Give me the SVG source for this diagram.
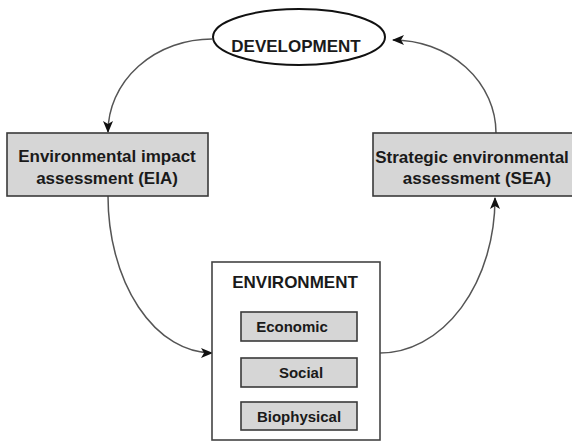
<svg xmlns="http://www.w3.org/2000/svg" width="572" height="442" viewBox="0 0 572 442">
<style>
.box{fill:#d6d6d6;stroke:#3a3a3a;stroke-width:1.6}
.wbox{fill:#fff;stroke:#444;stroke-width:1.6}
.t{font-family:"Liberation Sans",Arial,sans-serif;font-weight:bold;fill:#1a1a1a;text-anchor:middle}
.big{font-size:17px}
.sm{font-size:15px}
.conn{fill:none;stroke:#555;stroke-width:1.5}
</style>
<defs>
<marker id="arr" viewBox="0 0 12 10" refX="11" refY="5" markerWidth="12" markerHeight="10" markerUnits="userSpaceOnUse" orient="auto">
<path d="M0,0 L12,5 L0,10 L3,5 Z" fill="#111"/>
</marker>
</defs>
<rect width="572" height="442" fill="#fff"/>
<g id="connectors">
<path class="conn" d="M212,39 A104,93 0 0 0 108,132" marker-end="url(#arr)"/>
<path class="conn" d="M108,196 A104,157 0 0 0 212,353" marker-end="url(#arr)"/>
<path class="conn" d="M380,353 A115,155 0 0 0 495,198" marker-end="url(#arr)"/>
<path class="conn" d="M496,133 A103,93 0 0 0 393,40" marker-end="url(#arr)"/>
</g>
<g id="development">
<ellipse cx="299" cy="37" rx="86" ry="28" fill="#fff" stroke="#111" stroke-width="2"/>
<text class="t big" x="296" y="52">DEVELOPMENT</text>
</g>
<g id="eia">
<rect class="box" x="7" y="133" width="201" height="63"/>
<text class="t big" x="107" y="162">Environmental impact</text>
<text class="t big" x="107" y="184">assessment (EIA)</text>
</g>
<g id="sea">
<rect class="box" x="373" y="133" width="202" height="63"/>
<text class="t big" x="472" y="163">Strategic environmental</text>
<text class="t big" x="477" y="184">assessment (SEA)</text>
</g>
<g id="environment">
<rect class="wbox" x="212" y="262" width="168" height="178"/>
<text class="t big" x="295" y="288">ENVIRONMENT</text>
</g>
<g id="economic">
<rect class="box" x="241" y="312" width="116" height="29"/>
<text class="t sm" x="292" y="332">Economic</text>
</g>
<g id="social">
<rect class="box" x="241" y="358" width="116" height="29"/>
<text class="t sm" x="301" y="378">Social</text>
</g>
<g id="biophysical">
<rect class="box" x="241" y="402" width="116" height="28"/>
<text class="t sm" x="299" y="422">Biophysical</text>
</g>
</svg>
